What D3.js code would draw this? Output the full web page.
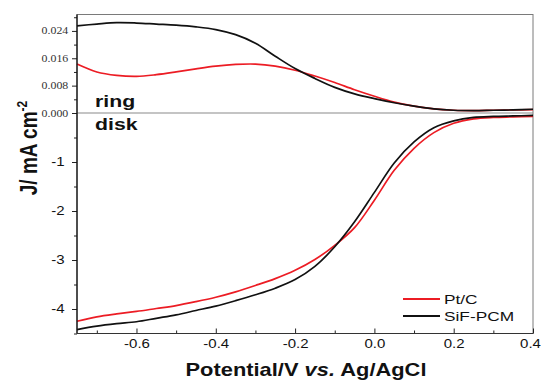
<!DOCTYPE html>
<html>
<head>
<meta charset="utf-8">
<script src="https://cdn.jsdelivr.net/npm/d3@7"></script>
<style>
  body { margin: 0; background: #fff; }
  text { font-family: "Liberation Sans", Arial, sans-serif; }
</style>
</head>
<body>
<script>
// potential (V vs. Ag/AgCl)
var potential = [-0.75, -0.7, -0.65, -0.6, -0.55, -0.5, -0.45, -0.4, -0.35, -0.3, -0.25, -0.2,
                 -0.15, -0.1, -0.05, 0, 0.05, 0.1, 0.15, 0.2, 0.25, 0.3, 0.35, 0.4];

// ring current (mA cm-2)
var ringPtC = [0.0143, 0.0120, 0.0110, 0.0107, 0.0112, 0.0120, 0.0129, 0.0137, 0.0142, 0.0143, 0.0137, 0.0125,
               0.0108, 0.0089, 0.0068, 0.0049, 0.0032, 0.0020, 0.0012, 0.0008, 0.0007, 0.0008, 0.0009, 0.0010];
var ringSiF = [0.0255, 0.0260, 0.0264, 0.0263, 0.0260, 0.0257, 0.0252, 0.0244, 0.0229, 0.0204, 0.0166, 0.0130,
               0.0101, 0.0075, 0.0056, 0.0042, 0.0030, 0.0020, 0.0012, 0.0008, 0.0007, 0.0008, 0.0009, 0.0011];

// disk current (mA cm-2)
var diskPtC = [-4.25, -4.16, -4.10, -4.05, -3.99, -3.93, -3.85, -3.76, -3.65, -3.52, -3.38, -3.21,
               -2.99, -2.70, -2.34, -1.78, -1.17, -0.72, -0.40, -0.21, -0.12, -0.09, -0.08, -0.07];
var diskSiF = [-4.42, -4.35, -4.30, -4.26, -4.19, -4.12, -4.03, -3.94, -3.83, -3.71, -3.575, -3.40,
               -3.13, -2.73, -2.22, -1.62, -1.02, -0.59, -0.30, -0.16, -0.09, -0.07, -0.06, -0.05];

var seriesNames = ["Pt/C", "SiF-PCM"];
var seriesColors = ["#ec1c24", "#111111"];

var xTicks = [-0.6, -0.4, -0.2, 0.0, 0.2, 0.4];
var xMinor = [-0.7, -0.5, -0.3, -0.1, 0.1, 0.3];
var ringTicks = [0, 0.008, 0.016, 0.024];
var ringMinor = [0.004, 0.012, 0.020, 0.028];
var diskTicks = [-4, -3, -2, -1];
var diskMinor = [-4.5, -3.5, -2.5, -1.5, -0.5];

(function() {
  var w = 541, h = 384;
  var left = 77, right = 533, plotTop = 14.5, mid = 113, bottom = 333.5;
  var sx = 1.25; // the picture is stretched sideways

  var svg = d3.select("body")
    .append("svg")
    .attr("width", w)
    .attr("height", h);

  var x = d3.scaleLinear().domain([-0.75, 0.4]).range([left, right]);
  var yRing = d3.scaleLinear().domain([0, 0.0288]).range([mid, plotTop]);
  var yDisk = d3.scaleLinear().domain([-4.5, 0]).range([bottom, mid]);

  // frame
  svg.append("rect")
    .attr("x", left).attr("y", plotTop)
    .attr("width", right - left).attr("height", bottom - plotTop)
    .attr("fill", "none").attr("stroke", "#7a7a7a").attr("stroke-width", 1);
  svg.append("line")
    .attr("x1", left).attr("x2", right).attr("y1", mid).attr("y2", mid)
    .attr("stroke", "#8a8a8a").attr("stroke-width", 1.2);

  // curves
  var line = function(yScale) {
    return d3.line()
      .x(function(d, i) { return x(potential[i]); })
      .y(function(d) { return yScale(d); })
      .curve(d3.curveCatmullRom.alpha(0.5));
  };

  svg.selectAll("path.ring")
    .data([ringPtC, ringSiF])
    .enter()
    .append("path")
    .attr("class", "ring")
    .attr("d", line(yRing))
    .attr("fill", "none")
    .attr("stroke", function(d, i) { return seriesColors[i]; })
    .attr("stroke-width", 1.7);

  svg.selectAll("path.disk")
    .data([diskPtC, diskSiF])
    .enter()
    .append("path")
    .attr("class", "disk")
    .attr("d", line(yDisk))
    .attr("fill", "none")
    .attr("stroke", function(d, i) { return seriesColors[i]; })
    .attr("stroke-width", 1.7);

  // x axis (ticks point inward)
  var xAxis = svg.append("g")
    .attr("transform", "translate(0," + bottom + ")")
    .call(d3.axisBottom(x).tickValues(xTicks).tickSize(-5).tickSizeOuter(0).tickPadding(6)
      .tickFormat(function(d) { return d.toFixed(1); }));
  svg.append("g")
    .attr("transform", "translate(0," + bottom + ")")
    .call(d3.axisBottom(x).tickValues(xMinor).tickSize(-3).tickSizeOuter(0).tickFormat(""));

  // ring y axis
  var ringAxis = svg.append("g")
    .attr("transform", "translate(" + left + ",0)")
    .call(d3.axisLeft(yRing).tickValues(ringTicks).tickSize(5).tickSizeOuter(0).tickPadding(2)
      .tickFormat(d3.format(".3f")));
  svg.append("g")
    .attr("transform", "translate(" + left + ",0)")
    .call(d3.axisLeft(yRing).tickValues(ringMinor).tickSize(3).tickSizeOuter(0).tickFormat(""));

  // disk y axis
  var diskAxis = svg.append("g")
    .attr("transform", "translate(" + left + ",0)")
    .call(d3.axisLeft(yDisk).tickValues(diskTicks).tickSize(5).tickSizeOuter(0).tickPadding(5)
      .tickFormat(function(d) { return String(d); }));
  svg.append("g")
    .attr("transform", "translate(" + left + ",0)")
    .call(d3.axisLeft(yDisk).tickValues(diskMinor).tickSize(3).tickSizeOuter(0).tickFormat(""));

  svg.selectAll(".domain").remove();
  svg.selectAll(".tick line").attr("stroke", "#222");

  xAxis.selectAll("text")
    .attr("font-size", 12).attr("fill", "#111")
    .attr("transform", function(d) { return d === 0.4 ? "translate(-3,0) scale(" + sx + ",1)" : "scale(" + sx + ",1)"; });
  diskAxis.selectAll("text")
    .attr("font-size", 12).attr("fill", "#111")
    .attr("transform", "scale(" + sx + ",1)");
  ringAxis.selectAll("text")
    .attr("font-size", 9.5).attr("fill", "#333")
    .style("font-family", "'Liberation Serif', 'Times New Roman', serif")
    .attr("transform", "scale(" + sx + ",1)");

  // axis lines
  svg.append("line")
    .attr("x1", left).attr("x2", left).attr("y1", plotTop).attr("y2", bottom)
    .attr("stroke", "#111").attr("stroke-width", 1.3);
  svg.append("line")
    .attr("x1", left).attr("x2", right).attr("y1", bottom).attr("y2", bottom)
    .attr("stroke", "#333").attr("stroke-width", 1.2);

  // panel labels
  svg.append("text")
    .attr("transform", "translate(95,107) scale(" + sx + ",1)")
    .attr("font-size", 17).attr("font-weight", "bold").attr("fill", "#111")
    .text("ring");
  svg.append("text")
    .attr("transform", "translate(95,130) scale(" + sx + ",1)")
    .attr("font-size", 17).attr("font-weight", "bold").attr("fill", "#111")
    .text("disk");

  // axis titles
  var xt = svg.append("text")
    .attr("transform", "translate(306,376) scale(" + sx + ",1)")
    .attr("text-anchor", "middle")
    .attr("font-size", 17.5).attr("font-weight", "bold").attr("fill", "#111");
  xt.append("tspan").text("Potential/V ");
  xt.append("tspan").attr("font-style", "italic").text("vs.");
  xt.append("tspan").text(" Ag/AgCl");

  var yt = svg.append("text")
    .attr("transform", "translate(37,148) scale(" + sx + ",1) rotate(-90)")
    .attr("text-anchor", "middle")
    .attr("font-size", 19).attr("font-weight", "bold").attr("fill", "#111");
  yt.append("tspan").text("J/ mA cm");
  yt.append("tspan").attr("font-size", 12).attr("dy", -8).text("-2");

  // legend
  var legend = svg.selectAll("g.legend")
    .data(seriesNames)
    .enter()
    .append("g")
    .attr("class", "legend")
    .attr("transform", function(d, i) { return "translate(403," + (299 + i * 17) + ")"; });
  legend.append("line")
    .attr("x1", 0).attr("x2", 37).attr("y1", 0).attr("y2", 0)
    .attr("stroke", function(d, i) { return seriesColors[i]; })
    .attr("stroke-width", 2);
  legend.append("text")
    .attr("transform", "translate(41,4.5) scale(1.28,1)")
    .attr("font-size", 13.5).attr("fill", "#111")
    .text(function(d) { return d; });
})();
</script>
</body>
</html>
